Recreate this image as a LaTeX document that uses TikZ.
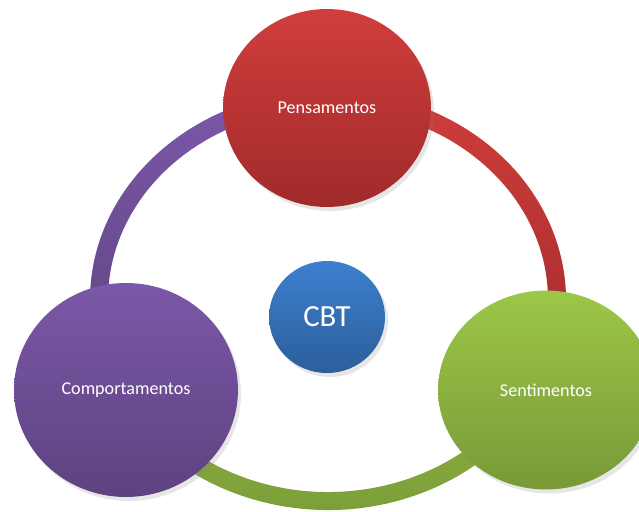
\documentclass[tikz,border=0pt]{standalone}
\usepackage{fontspec}
\setmainfont{Carlito}
\usetikzlibrary{shapes.geometric,shadows}

\definecolor{redtop}{RGB}{208,62,60}
\definecolor{redbot}{RGB}{160,42,42}
\definecolor{purtop}{RGB}{123,88,168}
\definecolor{purbot}{RGB}{94,66,128}
\definecolor{grntop}{RGB}{157,199,72}
\definecolor{grnbot}{RGB}{120,153,55}
\definecolor{blutop}{RGB}{60,128,206}
\definecolor{blubot}{RGB}{44,94,155}

\begin{document}
\begin{tikzpicture}[x=0.02cm, y=0.02cm,
  bubble/.style={ellipse, inner sep=0, text=white,
    font=\fontsize{10.3}{12}\selectfont,
    drop shadow={opacity=0.2, shadow xshift=0.6mm, shadow yshift=-0.8mm}}]
\useasboundingbox (0,0) rectangle (639,511);
\coordinate (ring) at (328,211);
% ring pieces, under the bubbles
\foreach \a/\b/\c/\d in {90/207/purtop/purbot, -26/90/redtop/redbot, 207/334/grntop!90!black/grnbot} {
 \shade[top color=\c, bottom color=\d] ([shift={(\a:238 and 210)}]ring)
   arc[start angle=\a, end angle=\b, x radius=238, y radius=210]
   -- ([shift={(\b:220 and 192)}]ring)
   arc[start angle=\b, end angle=\a, x radius=220, y radius=192] -- cycle;
}
\node[bubble, minimum width=4.16cm, minimum height=3.96cm, top color=redtop, bottom color=redbot] (pens) at (327,403) {Pensamentos};
\node[bubble, minimum width=4.48cm, minimum height=4.28cm, top color=purtop, bottom color=purbot] (comp) at (126,121) {Comportamentos};
\node[bubble, minimum width=4.32cm, minimum height=3.98cm, top color=grntop, bottom color=grnbot] (sent) at (546,121) {Sentimentos};
\node[bubble, minimum width=2.32cm, minimum height=2.24cm, top color=blutop, bottom color=blubot, font=\fontsize{17.5}{20}\selectfont] (cbt) at (327,194) {CBT};
\end{tikzpicture}
\end{document}
